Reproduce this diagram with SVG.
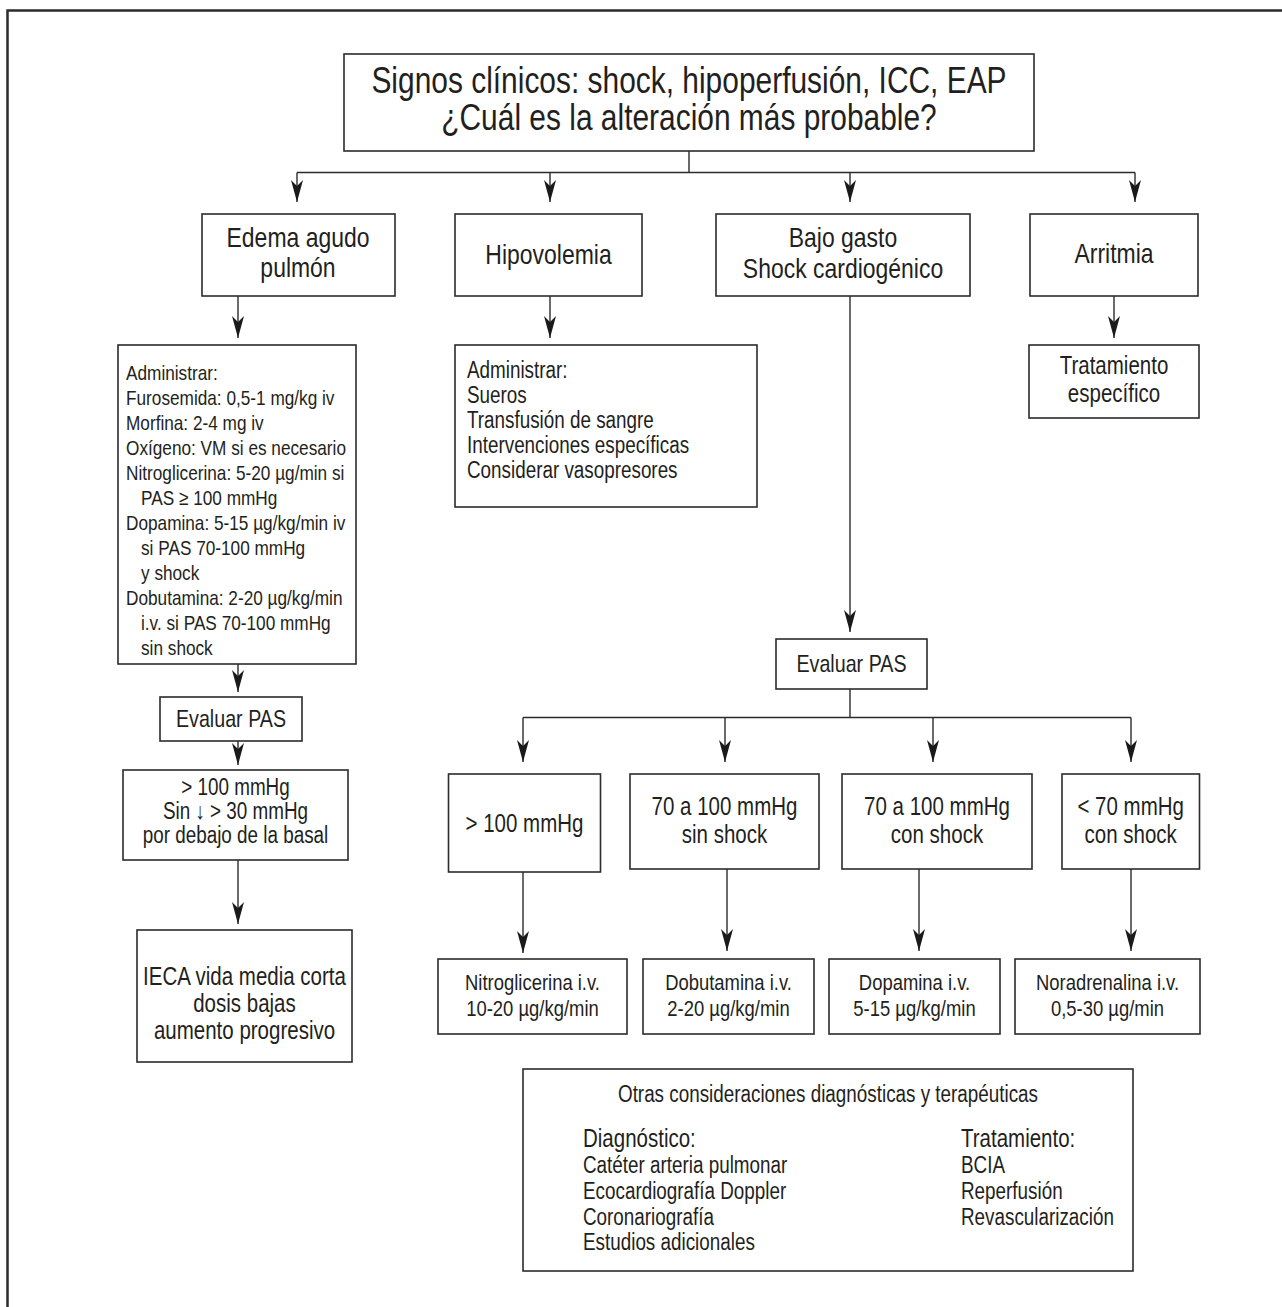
<svg xmlns="http://www.w3.org/2000/svg" width="1282" height="1307" viewBox="0 0 1282 1307">
  <style>
    .box { fill: #ffffff; stroke: #2b2b2b; stroke-width: 1.6; }
    .wire { fill: none; stroke: #2b2b2b; stroke-width: 1.4; }
    .arrow { fill: none; stroke: #2b2b2b; stroke-width: 1.4; marker-end: url(#head); }
    text { font-family: "Liberation Sans", Arial, sans-serif; fill: #231f20; }
    .c { text-anchor: middle; }
    .t36 { font-size: 36.5px; }
    .t28 { font-size: 28px; }
    .t25 { font-size: 25px; }
    .t24 { font-size: 24px; }
    .t23 { font-size: 23px; }
    .t22 { font-size: 22.5px; }
    .t21 { font-size: 21px; }
  </style>
  <defs>
    <marker id="head" viewBox="0 0 22 12" refX="22" refY="6" markerWidth="22" markerHeight="12" markerUnits="userSpaceOnUse" orient="auto">
      <path d="M0,0 L22,6 L0,12 L6,6 Z" fill="#1a1a1a"/>
    </marker>
  </defs>

  <rect width="1282" height="1307" fill="#ffffff"/>
  <!-- page frame -->
  <path d="M7.5,1307 V10.5 H1282" fill="none" stroke="#2b2b2b" stroke-width="2.5"/>

  <!-- connectors -->
  <g id="connectors">
    <path class="wire" d="M689,151 V172.5 M297,172.5 H1135"/>
    <path class="arrow" d="M297,172.5 V202"/>
    <path class="arrow" d="M550,172.5 V202"/>
    <path class="arrow" d="M850,172.5 V202"/>
    <path class="arrow" d="M1135,172.5 V202"/>
    <path class="arrow" d="M238,296 V338"/>
    <path class="arrow" d="M550,296 V338"/>
    <path class="arrow" d="M1114,296 V338"/>
    <path class="arrow" d="M850,296 V632"/>
    <path class="arrow" d="M238,664 V692"/>
    <path class="arrow" d="M238,741 V765"/>
    <path class="arrow" d="M238,860 V924"/>
    <path class="wire" d="M850,689 V717.5 M523,717.5 H1131"/>
    <path class="arrow" d="M523,717.5 V762"/>
    <path class="arrow" d="M725,717.5 V762"/>
    <path class="arrow" d="M933,717.5 V762"/>
    <path class="arrow" d="M1131,717.5 V762"/>
    <path class="arrow" d="M523,872 V953"/>
    <path class="arrow" d="M727,869 V951"/>
    <path class="arrow" d="M919,869 V951"/>
    <path class="arrow" d="M1131,869 V951"/>
  </g>

  <g id="n-signos">
    <rect class="box" x="344" y="54" width="690" height="97"/>
    <text class="c t36" transform="translate(689,93) scale(0.82,1)">Signos clínicos: shock, hipoperfusión, ICC, EAP</text>
    <text class="c t36" transform="translate(689,130) scale(0.82,1)">¿Cuál es la alteración más probable?</text>
  </g>

  <g id="n-edema">
    <rect class="box" x="202" y="214" width="193" height="82"/>
    <text class="c t28" transform="translate(298,247) scale(0.82,1)">Edema agudo</text>
    <text class="c t28" transform="translate(298,277) scale(0.82,1)">pulmón</text>
  </g>

  <g id="n-hipovolemia">
    <rect class="box" x="455" y="214" width="187" height="82"/>
    <text class="c t28" transform="translate(548.5,264) scale(0.82,1)">Hipovolemia</text>
  </g>

  <g id="n-bajo-gasto">
    <rect class="box" x="716" y="214" width="254" height="82"/>
    <text class="c t28" transform="translate(843,247) scale(0.82,1)">Bajo gasto</text>
    <text class="c t28" transform="translate(843,278) scale(0.82,1)">Shock cardiogénico</text>
  </g>

  <g id="n-arritmia">
    <rect class="box" x="1030" y="214" width="168" height="82"/>
    <text class="c t28" transform="translate(1114,263) scale(0.82,1)">Arritmia</text>
  </g>

  <g id="n-admin-eap">
    <rect class="box" x="118" y="345" width="238" height="319"/>
    <text class="t21" transform="translate(126,380) scale(0.82,1)">Administrar:</text>
    <text class="t21" transform="translate(126,405) scale(0.82,1)">Furosemida: 0,5-1 mg/kg iv</text>
    <text class="t21" transform="translate(126,430) scale(0.82,1)">Morfina: 2-4 mg iv</text>
    <text class="t21" transform="translate(126,455) scale(0.82,1)">Oxígeno: VM si es necesario</text>
    <text class="t21" transform="translate(126,480) scale(0.82,1)">Nitroglicerina: 5-20 µg/min si</text>
    <text class="t21" transform="translate(141,505) scale(0.82,1)">PAS ≥ 100 mmHg</text>
    <text class="t21" transform="translate(126,530) scale(0.82,1)">Dopamina: 5-15 µg/kg/min iv</text>
    <text class="t21" transform="translate(141,555) scale(0.82,1)">si PAS 70-100 mmHg</text>
    <text class="t21" transform="translate(141,580) scale(0.82,1)">y shock</text>
    <text class="t21" transform="translate(126,605) scale(0.82,1)">Dobutamina: 2-20 µg/kg/min</text>
    <text class="t21" transform="translate(141,630) scale(0.82,1)">i.v. si PAS 70-100 mmHg</text>
    <text class="t21" transform="translate(141,655) scale(0.82,1)">sin shock</text>
  </g>

  <g id="n-admin-hipo">
    <rect class="box" x="455" y="345" width="302" height="162"/>
    <text class="t23" transform="translate(467,378) scale(0.82,1)">Administrar:</text>
    <text class="t23" transform="translate(467,403) scale(0.82,1)">Sueros</text>
    <text class="t23" transform="translate(467,428) scale(0.82,1)">Transfusión de sangre</text>
    <text class="t23" transform="translate(467,453) scale(0.82,1)">Intervenciones específicas</text>
    <text class="t23" transform="translate(467,478) scale(0.82,1)">Considerar vasopresores</text>
  </g>

  <g id="n-tratamiento">
    <rect class="box" x="1029" y="345" width="170" height="73"/>
    <text class="c t25" transform="translate(1114,374) scale(0.82,1)">Tratamiento</text>
    <text class="c t25" transform="translate(1114,402) scale(0.82,1)">específico</text>
  </g>

  <g id="n-evaluar-izq">
    <rect class="box" x="160" y="697" width="142" height="44"/>
    <text class="c t24" transform="translate(231,727) scale(0.82,1)">Evaluar PAS</text>
  </g>

  <g id="n-pas-basal">
    <rect class="box" x="123" y="770" width="225" height="90"/>
    <text class="c t23" transform="translate(235.5,795) scale(0.82,1)">&gt; 100 mmHg</text>
    <text class="c t23" transform="translate(235.5,819) scale(0.82,1)">Sin ↓ &gt; 30 mmHg</text>
    <text class="c t23" transform="translate(235.5,843) scale(0.82,1)">por debajo de la basal</text>
  </g>

  <g id="n-ieca">
    <rect class="box" x="137" y="930" width="215" height="132"/>
    <text class="c t25" transform="translate(244.5,985) scale(0.82,1)">IECA vida media corta</text>
    <text class="c t25" transform="translate(244.5,1012) scale(0.82,1)">dosis bajas</text>
    <text class="c t25" transform="translate(244.5,1039) scale(0.82,1)">aumento progresivo</text>
  </g>

  <g id="n-evaluar-der">
    <rect class="box" x="776" y="639" width="151" height="50"/>
    <text class="c t24" transform="translate(851.5,672) scale(0.82,1)">Evaluar PAS</text>
  </g>

  <g id="n-pas-100">
    <rect class="box" x="448.5" y="774" width="152" height="98"/>
    <text class="c t25" transform="translate(524.5,832) scale(0.82,1)">&gt; 100 mmHg</text>
  </g>
  <g id="n-pas-70-sin">
    <rect class="box" x="630" y="774" width="189" height="95"/>
    <text class="c t25" transform="translate(724.5,815) scale(0.82,1)">70 a 100 mmHg</text>
    <text class="c t25" transform="translate(724.5,843) scale(0.82,1)">sin shock</text>
  </g>
  <g id="n-pas-70-con">
    <rect class="box" x="842" y="774" width="190" height="95"/>
    <text class="c t25" transform="translate(937,815) scale(0.82,1)">70 a 100 mmHg</text>
    <text class="c t25" transform="translate(937,843) scale(0.82,1)">con shock</text>
  </g>
  <g id="n-pas-menor-70">
    <rect class="box" x="1062" y="774" width="137.5" height="95"/>
    <text class="c t25" transform="translate(1130.7,815) scale(0.82,1)">&lt; 70 mmHg</text>
    <text class="c t25" transform="translate(1130.7,843) scale(0.82,1)">con shock</text>
  </g>

  <g id="n-nitroglicerina">
    <rect class="box" x="438" y="959" width="189" height="75"/>
    <text class="c t22" transform="translate(532.5,990) scale(0.82,1)">Nitroglicerina i.v.</text>
    <text class="c t22" transform="translate(532.5,1016) scale(0.82,1)">10-20 µg/kg/min</text>
  </g>
  <g id="n-dobutamina">
    <rect class="box" x="643" y="959" width="171" height="75"/>
    <text class="c t22" transform="translate(728.5,990) scale(0.82,1)">Dobutamina i.v.</text>
    <text class="c t22" transform="translate(728.5,1016) scale(0.82,1)">2-20 µg/kg/min</text>
  </g>
  <g id="n-dopamina">
    <rect class="box" x="829" y="959" width="171" height="75"/>
    <text class="c t22" transform="translate(914.5,990) scale(0.82,1)">Dopamina i.v.</text>
    <text class="c t22" transform="translate(914.5,1016) scale(0.82,1)">5-15 µg/kg/min</text>
  </g>
  <g id="n-noradrenalina">
    <rect class="box" x="1015" y="959" width="185" height="75"/>
    <text class="c t22" transform="translate(1107.5,990) scale(0.82,1)">Noradrenalina i.v.</text>
    <text class="c t22" transform="translate(1107.5,1016) scale(0.82,1)">0,5-30 µg/min</text>
  </g>

  <g id="n-otras">
    <rect class="box" x="523" y="1069" width="610" height="202"/>
    <text class="c t23" transform="translate(828,1102) scale(0.82,1)">Otras consideraciones diagnósticas y terapéuticas</text>
    <text class="t25" transform="translate(583,1147) scale(0.82,1)">Diagnóstico:</text>
    <text class="t23" transform="translate(583,1173) scale(0.82,1)">Catéter arteria pulmonar</text>
    <text class="t23" transform="translate(583,1199) scale(0.82,1)">Ecocardiografía Doppler</text>
    <text class="t23" transform="translate(583,1225) scale(0.82,1)">Coronariografía</text>
    <text class="t23" transform="translate(583,1250) scale(0.82,1)">Estudios adicionales</text>
    <text class="t25" transform="translate(961,1147) scale(0.82,1)">Tratamiento:</text>
    <text class="t23" transform="translate(961,1173) scale(0.82,1)">BCIA</text>
    <text class="t23" transform="translate(961,1199) scale(0.82,1)">Reperfusión</text>
    <text class="t23" transform="translate(961,1225) scale(0.82,1)">Revascularización</text>
  </g>
</svg>
